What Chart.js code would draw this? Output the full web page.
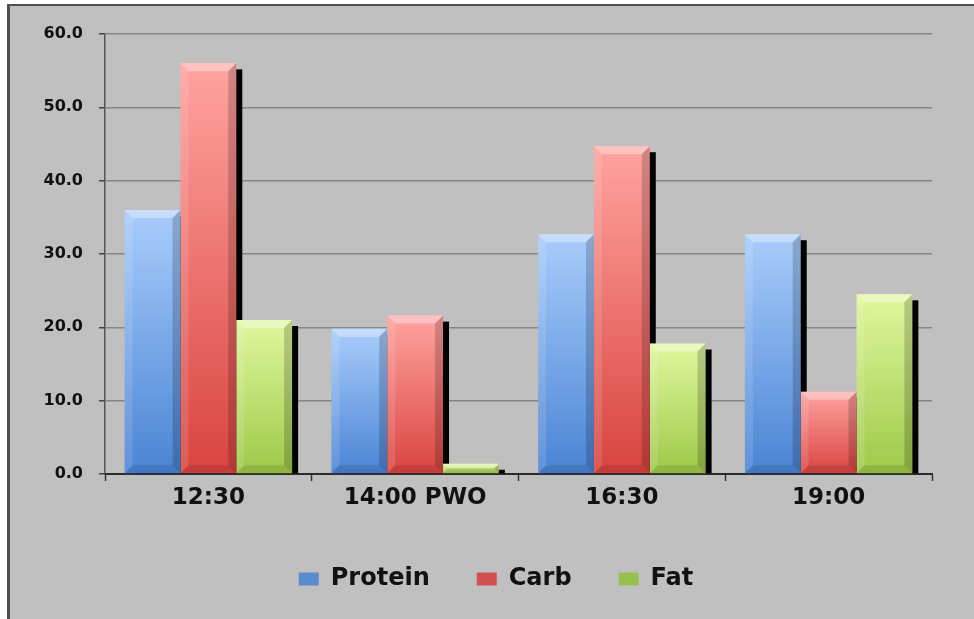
<!DOCTYPE html>
<html>
<head>
<meta charset="utf-8">
<script src="https://cdn.jsdelivr.net/npm/chart.js@4/dist/chart.umd.min.js"></script>
<style>
    html, body { margin: 0; padding: 0; background: #ffffff; }
    #frame {
        position: absolute;
        left: 7px;
        top: 4px;
        width: 967px;
        height: 615px;
        box-sizing: border-box;
        background: #c0c0c0;
        border-left: 3px solid #4f4f4f;
        border-top: 2px solid #4f4f4f;
    }
    #chart { display: block; }
</style>
</head>
<body>
<div id="frame"><canvas id="chart" width="964" height="613"></canvas></div>
<script>
const categories = ["12:30", "14:00 PWO", "16:30", "19:00"];
const seriesNames = ["Protein", "Carb", "Fat"];
const proteinValues = [36.0, 19.8, 32.7, 32.7];
const carbValues = [56.0, 21.6, 44.7, 11.2];
const fatValues = [21.0, 1.4, 17.8, 24.5];
const yTicks = [0, 10, 20, 30, 40, 50, 60];

// top / bottom colours of the glossy bars, plus legend swatch colour
const palette = [
    { top: "#a9cdfb", bottom: "#4a84d4", key: "#5a8ad0" },
    { top: "#ffa3a0", bottom: "#d9443f", key: "#d05050" },
    { top: "#def89e", bottom: "#9fc848", key: "#98c050" },
];

const FONT = "'DejaVu Sans', sans-serif";

function barGradient(index) {
    return (ctx) => {
        const chart = ctx.chart;
        const colors = palette[index];
        if (!chart.chartArea || ctx.type !== "data") {
            return colors.bottom;
        }
        const yScale = chart.scales.y;
        const top = yScale.getPixelForValue(ctx.parsed.y);
        const base = yScale.getPixelForValue(0);
        if (!isFinite(top) || base - top < 1) {
            return colors.top;
        }
        const g = chart.ctx.createLinearGradient(0, top, 0, base);
        g.addColorStop(0, colors.top);
        g.addColorStop(1, colors.bottom);
        return g;
    };
}

const bevelPlugin = {
    id: "bevel",
    afterLayout(chart) {
        // legend sits a little right of centre in the original
        if (chart.legend) {
            chart.legend.left += 25;
            chart.legend.right += 25;
        }
    },
    beforeDatasetsDraw(chart) {
        const ctx = chart.ctx;
        ctx.save();
        ctx.fillStyle = "#000000";
        chart.data.datasets.forEach((ds, i) => {
            chart.getDatasetMeta(i).data.forEach((bar) => {
                const { x, y, width, base } = bar.getProps(["x", "y", "width", "base"], true);
                ctx.fillRect(x - width / 2 + 6, y + 6, width, base - y - 6);
            });
        });
        ctx.restore();
    },
    afterDatasetsDraw(chart) {
        const ctx = chart.ctx;
        ctx.save();
        chart.data.datasets.forEach((ds, i) => {
            chart.getDatasetMeta(i).data.forEach((bar) => {
                const { x, y, width, base } = bar.getProps(["x", "y", "width", "base"], true);
                const h = base - y;
                const left = x - width / 2;
                const right = x + width / 2;
                const b = Math.min(8, h / 2);
                // top bevel
                ctx.fillStyle = "rgba(255,255,255,0.35)";
                ctx.beginPath();
                ctx.moveTo(left, y);
                ctx.lineTo(right, y);
                ctx.lineTo(right - b, y + b);
                ctx.lineTo(left + b, y + b);
                ctx.closePath();
                ctx.fill();
                // left edge
                ctx.fillStyle = "rgba(255,255,255,0.12)";
                ctx.beginPath();
                ctx.moveTo(left, y);
                ctx.lineTo(left + b, y + b);
                ctx.lineTo(left + b, base - b);
                ctx.lineTo(left, base);
                ctx.closePath();
                ctx.fill();
                // right edge
                ctx.fillStyle = "rgba(0,0,0,0.18)";
                ctx.beginPath();
                ctx.moveTo(right, y);
                ctx.lineTo(right - b, y + b);
                ctx.lineTo(right - b, base - b);
                ctx.lineTo(right, base);
                ctx.closePath();
                ctx.fill();
                // bottom edge
                ctx.fillStyle = "rgba(0,0,0,0.10)";
                ctx.beginPath();
                ctx.moveTo(left, base);
                ctx.lineTo(left + b, base - b);
                ctx.lineTo(right - b, base - b);
                ctx.lineTo(right, base);
                ctx.closePath();
                ctx.fill();
            });
        });
        ctx.restore();
    },
};

const seriesValues = [proteinValues, carbValues, fatValues];

new Chart(document.getElementById("chart"), {
    type: "bar",
    data: {
        labels: categories,
        datasets: seriesNames.map((name, i) => ({
            label: name,
            data: seriesValues[i],
            backgroundColor: barGradient(i),
            borderWidth: 0,
            categoryPercentage: 0.81,
            barPercentage: 1.0,
        })),
    },
    options: {
        responsive: false,
        animation: false,
        layout: { padding: { top: 28, right: 42, left: 0, bottom: 18 } },
        plugins: {
            tooltip: { enabled: false },
            legend: {
                position: "bottom",
                labels: {
                    boxWidth: 20,
                    boxHeight: 13,
                    padding: 47,
                    color: "#111111",
                    font: { family: FONT, size: 24, weight: "bold" },
                    generateLabels: () => seriesNames.map((name, i) => ({
                        text: name,
                        fillStyle: palette[i].key,
                        strokeStyle: palette[i].key,
                        lineWidth: 0,
                        fontColor: "#111111",
                        hidden: false,
                        datasetIndex: i,
                    })),
                },
            },
        },
        scales: {
            x: {
                afterFit: (scale) => { scale.height = 46; },
                grid: {
                    offset: true,
                    drawOnChartArea: false,
                    drawTicks: true,
                    tickLength: 7,
                    tickColor: "#333333",
                    tickWidth: 1.5,
                },
                border: { color: "#2a2a2a", width: 2 },
                ticks: {
                    color: "#111111",
                    padding: 3,
                    font: { family: FONT, size: 23, weight: "bold" },
                },
            },
            y: {
                min: 0,
                max: 60,
                afterFit: (scale) => { scale.width = 95; },
                afterBuildTicks: (scale) => { scale.ticks = yTicks.map((v) => ({ value: v })); },
                grid: {
                    color: "#858585",
                    lineWidth: 1.5,
                    tickLength: 6,
                    tickColor: "#444444",
                },
                border: { color: "#555555", width: 1.5 },
                ticks: {
                    color: "#111111",
                    padding: 16,
                    font: { family: FONT, size: 16, weight: "bold" },
                    callback: (v) => Number(v).toFixed(1),
                },
            },
        },
    },
    plugins: [bevelPlugin],
});
</script>
</body>
</html>
